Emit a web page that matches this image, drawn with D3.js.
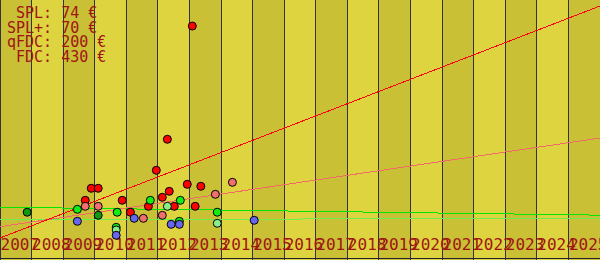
<!DOCTYPE html>
<html><head><meta charset="utf-8">
<script src="https://cdn.jsdelivr.net/npm/d3@7"></script>
<style>html,body{margin:0;padding:0;background:#fff;}svg{display:block;}</style>
</head><body>
<div id="chart"></div>
<script>
// ---- data ----
const years = d3.range(2007, 2026);
const legendLines = [" SPL: 74 €", "SPL+: 70 €", "qFDC: 200 €", " FDC: 430 €"];

// red points (FDC)
const redYears  = [2009.70, 2009.89, 2010.11, 2010.87, 2011.13, 2011.70, 2011.95, 2012.14, 2012.30, 2012.36, 2012.52, 2012.93, 2013.09, 2013.18, 2013.36];
const redValues = [93.0, 113.8, 113.8, 93.0, 72.4, 82.6, 145.0, 98.2, 198.7, 108.6, 82.6, 120.7, 394.9, 82.6, 117.3];
// pink points (qFDC)
const pinkYears  = [2009.70, 2010.11, 2011.54, 2012.14, 2013.82, 2014.36];
const pinkValues = [82.6, 82.6, 61.8, 67.0, 103.4, 124.2];
// dark green points
const darkGreenYears  = [2007.86, 2010.11];
const darkGreenValues = [72.4, 67.0];
// green points (SPL)
const greenYears  = [2009.45, 2010.68, 2010.71, 2011.76, 2012.68, 2012.71, 2013.88];
const greenValues = [77.4, 46.2, 72.4, 93.0, 56.6, 93.0, 72.4];
// light green points (SPL+)
const lightGreenYears  = [2010.68, 2012.30, 2013.88];
const lightGreenValues = [41.6, 82.6, 53.2];
// blue points
const blueYears  = [2009.45, 2010.68, 2011.25, 2012.42, 2012.68, 2015.05];
const blueValues = [56.6, 32.4, 61.8, 51.4, 51.4, 58.4];

// trend lines: [start, end] at years 2007 and 2026
const trendYears = [2007, 2026];
const redTrend = [27.7, 429.6];
const pinkTrend = [47.3, 200.9];
const greenTrend = [81.1, 67.3];
const lightGreenTrend = [59.4, 61.8];

// ---- chart ----
const W = 600, H = 260;
const svg = d3.select("#chart").append("svg").attr("width", W).attr("height", H);
const x = d3.scaleLinear().domain([2007, 2026]).range([0, 600]);
const y = d3.scaleLinear().domain([0, 440]).range([254, 0]);

// bands
svg.append("g").selectAll("rect").data(years).join("rect")
  .attr("x", d => x(d)).attr("y", 0)
  .attr("width", d => x(d + 1) - x(d)).attr("height", H)
  .attr("fill", (d, i) => i % 2 === 0 ? "#c9c036" : "#ddd440")
  .attr("shape-rendering", "crispEdges");

// vertical grid lines
svg.append("g").selectAll("line").data(years).join("line")
  .attr("x1", d => Math.floor(x(d)) + 0.5).attr("x2", d => Math.floor(x(d)) + 0.5)
  .attr("y1", 0).attr("y2", H)
  .attr("stroke", "#333338").attr("stroke-width", 1)
  .attr("shape-rendering", "crispEdges");

// bottom line
svg.append("line").attr("x1", 0).attr("x2", W).attr("y1", 258.5).attr("y2", 258.5)
  .attr("stroke", "#222228").attr("stroke-width", 1).attr("shape-rendering", "crispEdges");

// year labels
svg.append("g").selectAll("text").data(years).join("text")
  .attr("x", d => x(d) + 0.5).attr("y", 250)
  .attr("font-family", "DejaVu Sans Mono").attr("font-size", 16)
  .attr("fill", "#a01414")
  .text(d => d);

// legend text
svg.append("g").selectAll("text").data(legendLines).join("text")
  .attr("x", 7).attr("y", (d, i) => 18 + i * 14.7)
  .attr("font-family", "DejaVu Sans Mono").attr("font-size", 15)
  .attr("fill", "#a01414")
  .style("white-space", "pre")
  .attr("xml:space", "preserve")
  .text(d => d);

// trend lines
const line = d3.line().x(d => x(d[0])).y(d => y(d[1]));
function trend(vals, color) {
  svg.append("path").datum(trendYears.map((t, i) => [t, vals[i]]))
    .attr("d", line).attr("fill", "none").attr("stroke", color)
    .attr("stroke-width", 1).attr("shape-rendering", "crispEdges");
}
trend(greenTrend, "#00e800");
trend(lightGreenTrend, "#6cf050");
trend(pinkTrend, "#f06a6a");
trend(redTrend, "#ff0000");

// points
function points(xs, vs, color) {
  svg.append("g").selectAll("circle").data(xs.map((t, i) => [t, vs[i]])).join("circle")
    .attr("cx", d => x(d[0])).attr("cy", d => y(d[1])).attr("r", 4)
    .attr("fill", color).attr("stroke", "#000").attr("stroke-width", 1);
}
points(redYears, redValues, "#ff0000");
points(pinkYears, pinkValues, "#f07070");
points(darkGreenYears, darkGreenValues, "#119911");
points(greenYears, greenValues, "#11ee11");
points(lightGreenYears, lightGreenValues, "#88ee88");
points(blueYears, blueValues, "#6666ee");
</script>
</body></html>
